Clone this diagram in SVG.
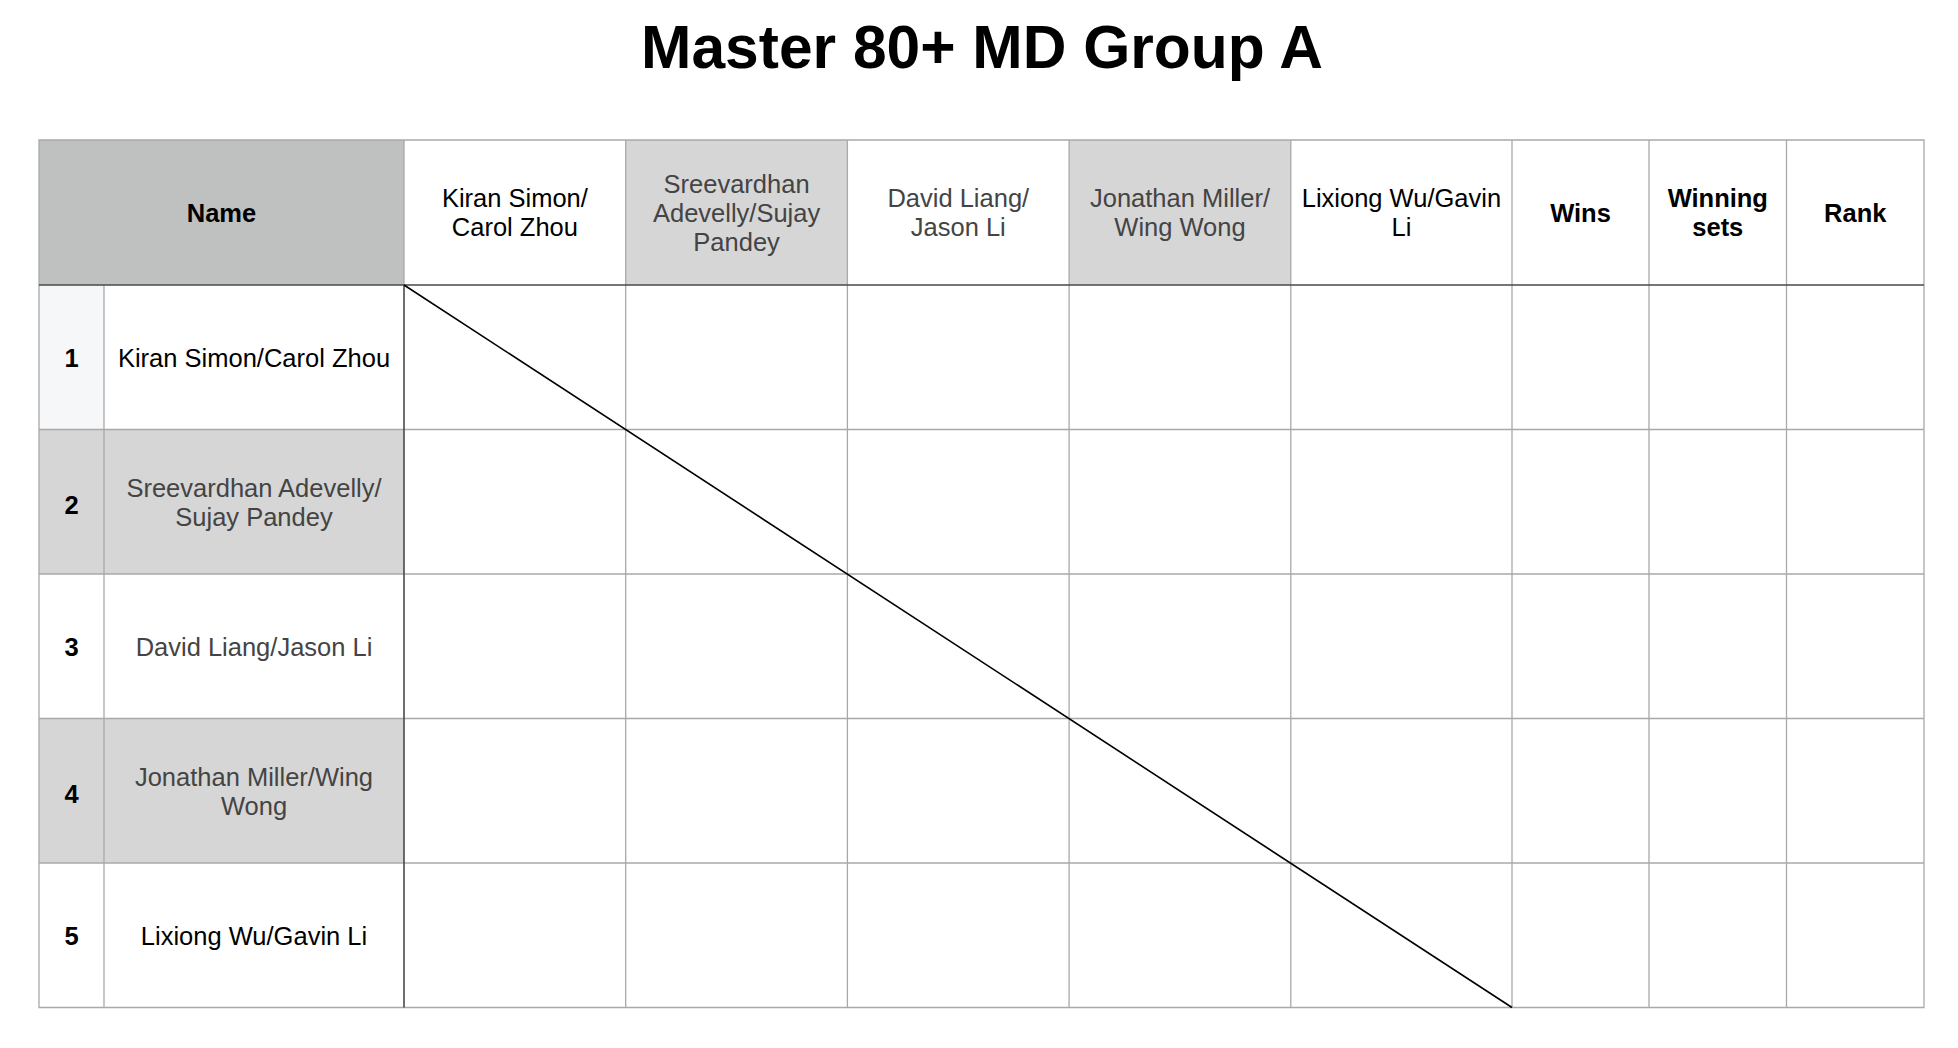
<svg xmlns="http://www.w3.org/2000/svg" width="1958" height="1048" viewBox="0 0 1958 1048">
<style>
.t{font-family:"Liberation Sans",Arial,Helvetica,sans-serif;font-size:25.5px;text-anchor:middle}
.b{font-weight:bold;fill:#000}
.k{fill:#000}
.g{fill:#444}
.title{font-family:"Liberation Sans",Arial,Helvetica,sans-serif;font-size:60.5px;font-weight:bold;text-anchor:middle;fill:#000}
.grid{stroke:#a9a9a9;stroke-width:1.3;fill:none}
.dark{stroke:#4a4a4a;stroke-width:1.6;fill:none}
.hdr{fill:#bfc1c0}
.sh{fill:#d6d6d6}
</style>
<rect width="1958" height="1048" fill="#fff"/>
<text class="title" x="982" y="68">Master 80+ MD Group A</text>

<g id="fills">
<rect class="hdr" x="39" y="140" width="365" height="145"/>
<rect class="sh" x="625.7" y="140" width="221.7" height="145"/>
<rect class="sh" x="1069.1" y="140" width="221.7" height="145"/>
<rect x="39" y="285" width="65" height="144.5" fill="#f6f7f8"/>
<rect class="sh" x="39" y="429.5" width="365" height="144.5"/>
<rect class="sh" x="39" y="718.5" width="365" height="144.5"/>
</g>

<g id="grid">
<path class="grid" d="M39 140H1924V1007.5H39Z"/>
<path class="grid" d="M39 429.5H1924M39 574H1924M39 718.5H1924M39 863H1924"/>
<path class="grid" d="M104 285V1007.5M404 140V285M625.7 140V1007.5M847.4 140V1007.5M1069.1 140V1007.5M1290.8 140V1007.5M1512 140V1007.5M1649 140V1007.5M1786.5 140V1007.5"/>
<path class="dark" d="M39 285H1924M404 285V1007.5"/>
</g>

<g id="diagonal">
<line x1="404" y1="285" x2="1512" y2="1007.5" stroke="#000" stroke-width="1.6"/>
</g>

<g id="header-name"><text class="t b" x="221.5" y="221.7">Name</text></g>
<g id="header-p1"><text class="t k"><tspan x="514.9" y="207.2">Kiran Simon/</tspan><tspan x="514.9" y="236.2">Carol Zhou</tspan></text></g>
<g id="header-p2"><text class="t g"><tspan x="736.6" y="192.7">Sreevardhan</tspan><tspan x="736.6" y="221.7">Adevelly/Sujay</tspan><tspan x="736.6" y="250.7">Pandey</tspan></text></g>
<g id="header-p3"><text class="t g"><tspan x="958.3" y="207.2">David Liang/</tspan><tspan x="958.3" y="236.2">Jason Li</tspan></text></g>
<g id="header-p4"><text class="t g"><tspan x="1180" y="207.2">Jonathan Miller/</tspan><tspan x="1180" y="236.2">Wing Wong</tspan></text></g>
<g id="header-p5"><text class="t k"><tspan x="1401.4" y="207.2">Lixiong Wu/Gavin</tspan><tspan x="1401.4" y="236.2">Li</tspan></text></g>
<g id="header-wins"><text class="t b" x="1580.5" y="221.7">Wins</text></g>
<g id="header-sets"><text class="t b"><tspan x="1717.8" y="207.2">Winning</tspan><tspan x="1717.8" y="236.2">sets</tspan></text></g>
<g id="header-rank"><text class="t b" x="1855.3" y="221.7">Rank</text></g>

<g id="row1"><text class="t b" x="71.5" y="366.5">1</text><text class="t k" x="254" y="366.5">Kiran Simon/Carol Zhou</text></g>
<g id="row2"><text class="t b" x="71.5" y="513.5">2</text><text class="t g"><tspan x="254" y="496.5">Sreevardhan Adevelly/</tspan><tspan x="254" y="525.5">Sujay Pandey</tspan></text></g>
<g id="row3"><text class="t b" x="71.5" y="656">3</text><text class="t g" x="254" y="655.5">David Liang/Jason Li</text></g>
<g id="row4"><text class="t b" x="71.5" y="802.5">4</text><text class="t g"><tspan x="254" y="785.5">Jonathan Miller/Wing</tspan><tspan x="254" y="814.5">Wong</tspan></text></g>
<g id="row5"><text class="t b" x="71.5" y="945">5</text><text class="t k" x="254" y="944.5">Lixiong Wu/Gavin Li</text></g>
</svg>
